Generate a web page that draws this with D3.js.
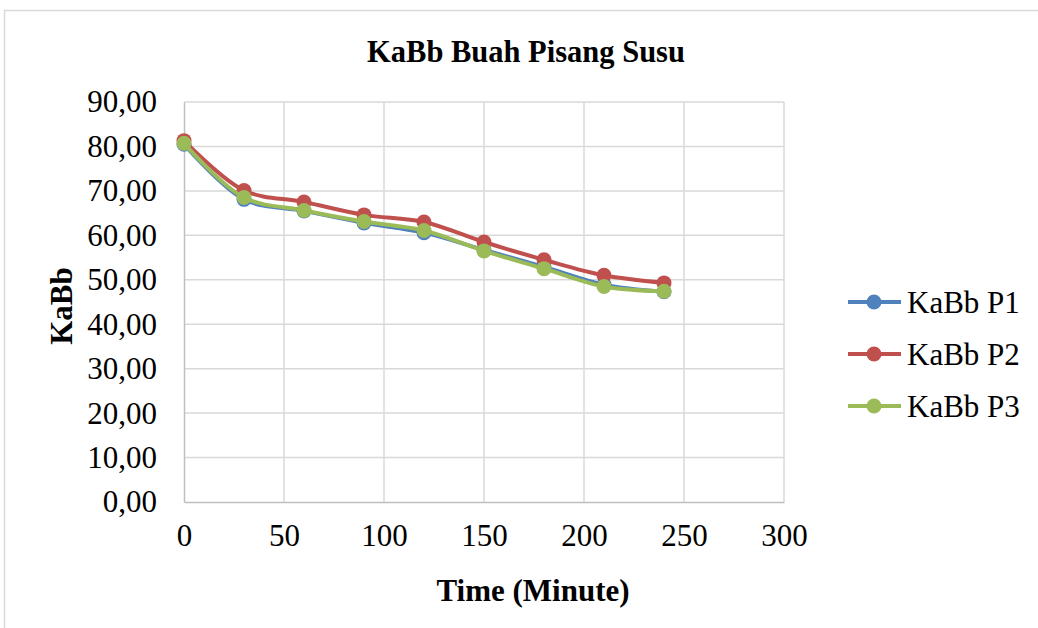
<!DOCTYPE html>
<html>
<head>
<meta charset="utf-8">
<script src="https://cdn.jsdelivr.net/npm/d3@7"></script>
<style>
  body { margin: 0; background: #fff; }
  svg { display: block; font-family: "Liberation Serif", "Times New Roman", serif; }
</style>
</head>
<body>
<div id="chart"></div>
<script>
const width = 1038;
const height = 628;

// data
const times = [0, 30, 60, 90, 120, 150, 180, 210, 240];
const seriesNames = ["KaBb P1", "KaBb P2", "KaBb P3"];
const p1 = [80.5, 68.1, 65.5, 62.8, 60.6, 56.7, 52.9, 48.9, 47.3];
const p2 = [81.3, 70.1, 67.5, 64.6, 63.0, 58.5, 54.5, 51.0, 49.3];
const p3 = [80.7, 68.5, 65.6, 63.1, 61.1, 56.5, 52.5, 48.5, 47.4];
const colors = ["#4F81BD", "#C0504D", "#9BBB59"];
const xTicks = [0, 50, 100, 150, 200, 250, 300];
const yTicks = [0, 10, 20, 30, 40, 50, 60, 70, 80, 90];

const plot = { left: 184, right: 784, top: 102, bottom: 502 };

const svg = d3.select("#chart").append("svg")
    .attr("width", width)
    .attr("height", height);

// chart frame
svg.append("rect")
    .attr("x", 4.5).attr("y", 10.5)
    .attr("width", 1060).attr("height", 660)
    .attr("fill", "#fff")
    .attr("stroke", "#d9d9d9")
    .attr("stroke-width", 1.5);

const xScale = d3.scaleLinear().domain([0, 300]).range([plot.left, plot.right]);
const yScale = d3.scaleLinear().domain([0, 90]).range([plot.bottom, plot.top]);

// gridlines
svg.append("g")
    .selectAll("line.h")
    .data(yTicks.slice(1))
    .join("line")
    .attr("x1", plot.left).attr("x2", plot.right)
    .attr("y1", d => yScale(d)).attr("y2", d => yScale(d))
    .attr("stroke", "#d9d9d9").attr("stroke-width", 1.5);

svg.append("g")
    .selectAll("line.v")
    .data(xTicks.slice(1))
    .join("line")
    .attr("x1", d => xScale(d)).attr("x2", d => xScale(d))
    .attr("y1", plot.top).attr("y2", plot.bottom)
    .attr("stroke", "#d9d9d9").attr("stroke-width", 1.5);

// axes
const xAxis = d3.axisBottom(xScale).tickValues(xTicks).tickSize(0).tickPadding(22);
const yAxis = d3.axisLeft(yScale).tickValues(yTicks).tickSize(0).tickPadding(27)
    .tickFormat(d => d3.format(".2f")(d).replace(".", ","));

const gx = svg.append("g")
    .attr("transform", "translate(0," + plot.bottom + ")")
    .call(xAxis);
const gy = svg.append("g")
    .attr("transform", "translate(" + plot.left + ",0)")
    .call(yAxis);

[gx, gy].forEach(g => {
    g.select(".domain").attr("stroke", "#bfbfbf").attr("stroke-width", 1.5);
    g.selectAll("text")
        .attr("font-family", "Liberation Serif")
        .attr("font-size", 31)
        .attr("fill", "#000");
});
gx.selectAll("text").attr("dy", "0.71em");

// lines
const line = d3.line()
    .x((d, i) => xScale(times[i]))
    .y(d => yScale(d))
    .curve(d3.curveCatmullRom.alpha(0.5));

const allSeries = [p1, p2, p3];
allSeries.forEach((vals, k) => {
    svg.append("path")
        .attr("d", line(vals))
        .attr("fill", "none")
        .attr("stroke", colors[k])
        .attr("stroke-width", 4)
        .attr("stroke-linecap", "round");
    svg.append("g")
        .selectAll("circle")
        .data(vals)
        .join("circle")
        .attr("cx", (d, i) => xScale(times[i]))
        .attr("cy", d => yScale(d))
        .attr("r", 7.5)
        .attr("fill", colors[k]);
});

// titles
svg.append("text")
    .attr("x", 526).attr("y", 62)
    .attr("text-anchor", "middle")
    .attr("font-weight", "bold")
    .attr("font-size", 30.5)
    .text("KaBb Buah Pisang Susu");

svg.append("text")
    .attr("x", 533).attr("y", 601)
    .attr("text-anchor", "middle")
    .attr("font-weight", "bold")
    .attr("font-size", 31)
    .text("Time (Minute)");

svg.append("text")
    .attr("transform", "translate(72,306) rotate(-90)")
    .attr("text-anchor", "middle")
    .attr("font-weight", "bold")
    .attr("font-size", 31)
    .text("KaBb");

// legend
const legend = svg.append("g");
seriesNames.forEach((name, k) => {
    const y = 302 + k * 52;
    legend.append("line")
        .attr("x1", 848).attr("x2", 901)
        .attr("y1", y).attr("y2", y)
        .attr("stroke", colors[k]).attr("stroke-width", 4);
    legend.append("circle")
        .attr("cx", 874).attr("cy", y).attr("r", 7.5)
        .attr("fill", colors[k]);
    legend.append("text")
        .attr("x", 907).attr("y", y)
        .attr("dy", "0.35em")
        .attr("font-size", 31)
        .text(name);
});
</script>
</body>
</html>
